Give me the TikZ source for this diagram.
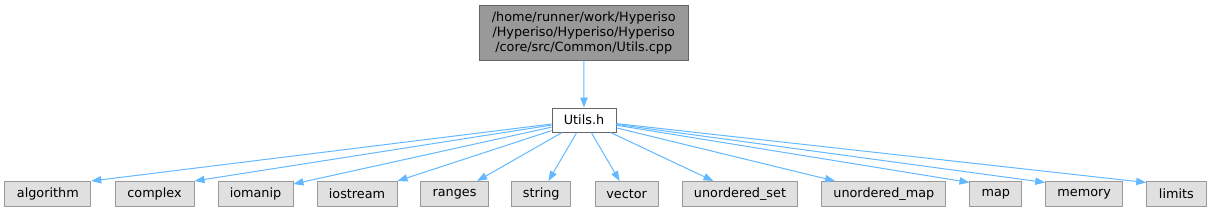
\documentclass[tikz,border=0pt]{standalone}
\usepackage{fontspec}
\setmainfont{DejaVu Sans}
\usetikzlibrary{arrows.meta,calc}
\definecolor{edgeblue}{HTML}{63B8FF}
\definecolor{topfill}{HTML}{999999}
\definecolor{topdraw}{HTML}{666666}
\definecolor{leaffill}{HTML}{E0E0E0}
\definecolor{leafdraw}{HTML}{999999}
\tikzset{
  base/.style={rectangle, inner sep=0pt, line width=0.75pt, align=center,
    font=\fontsize{9.6}{11.25}\selectfont, text=black},
  topbox/.style={base, fill=topfill, draw=topdraw},
  midbox/.style={base, fill=white, draw=topdraw},
  leaf/.style={base, fill=leaffill, draw=leafdraw, minimum height=18.75pt},
  dep/.style={draw=edgeblue, line width=0.75pt, -{Triangle[length=7.5pt,width=5.5pt]}},
}
\begin{document}
\begin{tikzpicture}[x=0.75pt,y=-0.75pt]
\useasboundingbox (0,0) rectangle (1211,212);
\node[topbox, minimum width=156.4pt, minimum height=41.25pt] (top) at (583.75,32.5)
  {/home/runner/work/Hyperiso\\/Hyperiso/Hyperiso/Hyperiso\\/core/src/Common/Utils.cpp};
\node[midbox, minimum width=48pt, minimum height=18pt] (utils) at (584,120) {Utils.h};
\node[leaf, minimum width=64.3pt] (algorithm) at (47.85,194) {algorithm};
\node[leaf, minimum width=59.25pt] (complex) at (154.5,194) {complex};
\node[leaf, minimum width=56.25pt] (iomanip) at (255.5,194) {iomanip};
\node[leaf, minimum width=60pt] (iostream) at (357,194) {iostream};
\node[leaf, minimum width=50.7pt] (ranges) at (454.5,194) {ranges};
\node[leaf, minimum width=44.25pt] (string) at (541.2,194) {string};
\node[leaf, minimum width=47.5pt] (vector) at (626.7,194) {vector};
\node[leaf, minimum width=86pt] (uset) at (740,194) {unordered\_set};
\node[leaf, minimum width=93.2pt] (umap) at (883.85,194) {unordered\_map};
\node[leaf, minimum width=38.8pt] (map) at (995.85,194) {map};
\node[leaf, minimum width=57.75pt] (memory) at (1084.2,194) {memory};
\node[leaf, minimum width=44.5pt] (limits) at (1176.35,194) {limits};

\draw[dep] (top) -- (utils);
\draw[dep] (utils) -- (algorithm.north east);
\draw[dep] (utils) -- (complex.north east);
\draw[dep] (utils) -- ($(iomanip.north east)+(0,3)$);
\draw[dep] (utils) -- (iostream.north east);
\draw[dep] (utils) -- ($(ranges.north west)!0.83!(ranges.north east)$);
\draw[dep] (utils) -- ($(string.north west)!0.62!(string.north east)$);
\draw[dep] (utils) -- ($(vector.north west)!0.39!(vector.north east)$);
\draw[dep] (utils) -- ($(uset.north west)!0.27!(uset.north east)$);
\draw[dep] (utils) -- ($(umap.north west)!0.11!(umap.north east)$);
\draw[dep] (utils) -- ($(map.north west)+(0,1.5)$);
\draw[dep] (utils) -- ($(memory.north west)+(0,1.5)$);
\draw[dep] (utils) -- ($(limits.north west)+(0,1.5)$);
\end{tikzpicture}
\end{document}
